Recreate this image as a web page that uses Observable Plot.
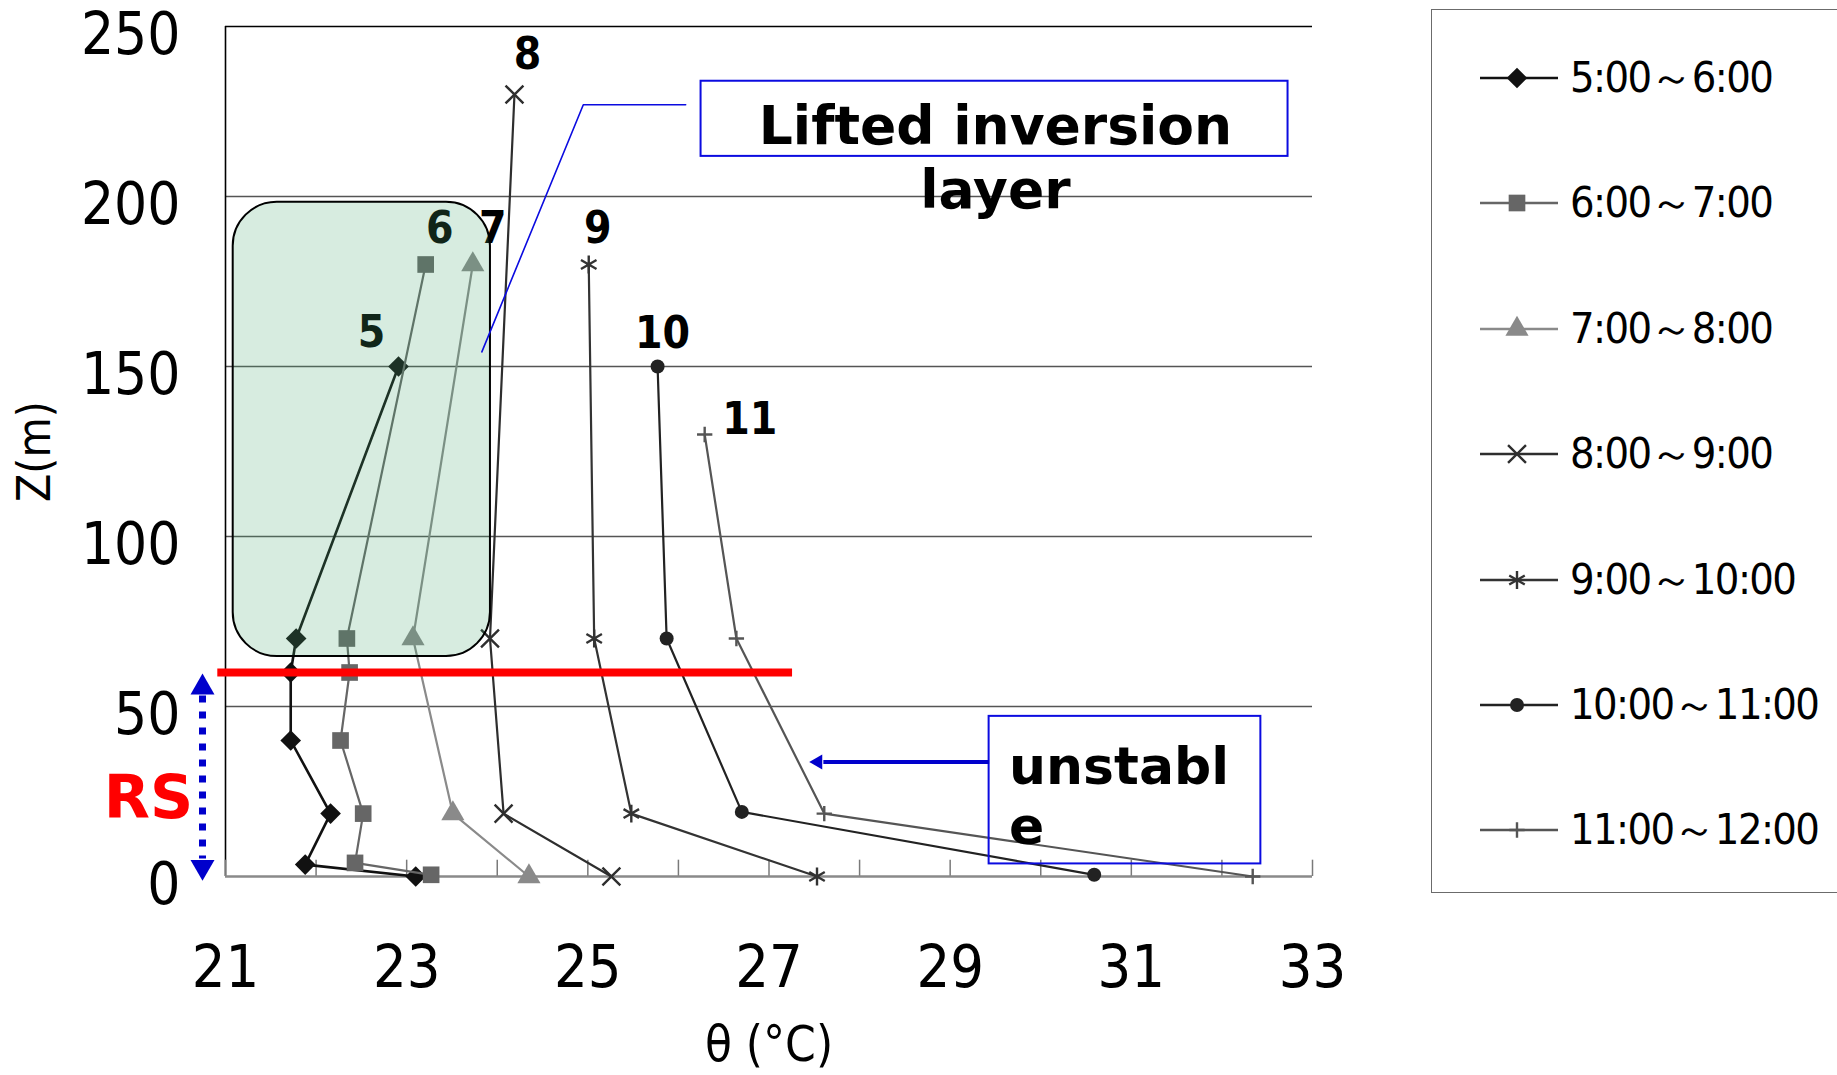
<!DOCTYPE html>
<html>
<head>
<meta charset="utf-8">
<script src="https://cdn.jsdelivr.net/npm/d3@7"></script>
<script src="https://cdn.jsdelivr.net/npm/@observablehq/plot@0.6"></script>
<style>
  html, body { margin: 0; padding: 0; background: #fff; }
  #wrap { position: relative; width: 1837px; height: 1075px; overflow: hidden; }
  #legend { position: absolute; left: 1431px; top: 9px; width: 460px; height: 884px;
            border: 1.5px solid #6b6b6b; box-sizing: border-box; background: #fff; }
  .row { position: absolute; left: 48px; height: 40px; display: flex; align-items: center; }
  .row span { font-family: "DejaVu Sans Condensed", "DejaVu Sans", sans-serif; font-stretch: condensed;
              font-size: 43px; margin-left: 12px; color: #000; white-space: nowrap; letter-spacing: -1.6px; }
</style>
</head>
<body>
<div id="wrap"></div>
<script>
// Potential temperature profiles, one per hour of the morning
const periods = ["5:00～6:00", "6:00～7:00", "7:00～8:00", "8:00～9:00", "9:00～10:00", "10:00～11:00", "11:00～12:00"];
const hourLabels = ["5", "6", "7", "8", "9", "10", "11"];

// heights (m) and θ (°C) of each profile
const z5 = [0, 3.5, 18.5, 40, 60, 70, 150];
const t5 = [23.10, 21.88, 22.16, 21.72, 21.72, 21.78, 22.91];
const z6 = [0.5, 4, 18.5, 40, 60, 70, 180];
const t6 = [23.27, 22.43, 22.52, 22.27, 22.37, 22.34, 23.21];
const z7 = [0, 18.5, 70, 180];
const t7 = [24.35, 23.51, 23.07, 23.73];
const z8 = [0, 18.5, 70, 230];
const t8 = [25.26, 24.07, 23.92, 24.19];
const z9 = [0, 18.5, 70, 180];
const t9 = [27.53, 25.48, 25.07, 25.01];
const z10 = [0.5, 19, 70, 150];
const t10 = [30.59, 26.70, 25.87, 25.77];
const z11 = [0, 18.5, 70, 130];
const t11 = [32.34, 27.61, 26.64, 26.29];

const xTicks = [21, 23, 25, 27, 29, 31, 33];
const yTicks = [0, 50, 100, 150, 200, 250];
const rsTop = 60; // top of the roughness sublayer (m)

const heights = [z5, z6, z7, z8, z9, z10, z11];
const thetas = [t5, t6, t7, t8, t9, t10, t11];

// drawing style of each profile
const looks = [
  {color: "#111111", symbol: "diamond2", r: 9.3, filled: true, width: 2.6, ldx: -27, ldy: -34},
  {color: "#666666", symbol: "square", r: 9.4, filled: true, width: 2.2, ldx: 14, ldy: -36},
  {color: "#8a8a8a", symbol: "triangle", r: 8.6, filled: true, width: 2.2, ldx: 20, ldy: -36},
  {color: "#2e2e2e", symbol: "times", r: 8.2, filled: false, width: 2.2, ldx: 13, ldy: -40},
  {color: "#333333", symbol: "asterisk", r: 8.5, filled: false, width: 2.2, ldx: 9, ldy: -36},
  {color: "#222222", symbol: "circle", r: 7, filled: true, width: 2.2, ldx: 5, ldy: -33},
  {color: "#555555", symbol: "plus", r: 5, filled: false, width: 2.2, ldx: 45, ldy: -15}
];

const profiles = periods.map((p, i) => ({
  period: p,
  label: hourLabels[i],
  rows: heights[i].map((z, j) => ({z, theta: thetas[i][j]})),
  look: looks[i]
}));

const font = "\"DejaVu Sans Condensed\", \"DejaVu Sans\", sans-serif";
const blue = "#0b0be0";

const profileMarks = profiles.flatMap(({rows, look, label}) => {
  const top = rows.reduce((a, b) => (b.z > a.z ? b : a));
  return [
    Plot.line(rows, {x: "theta", y: "z", stroke: look.color, strokeWidth: look.width}),
    Plot.dot(rows, {
      x: "theta", y: "z", symbol: look.symbol, r: look.r,
      fill: look.filled ? look.color : "none",
      stroke: look.filled ? "none" : look.color,
      strokeWidth: look.filled ? 0 : 2.4
    }),
    Plot.text([top], {
      x: "theta", y: "z", text: () => label, dx: look.ldx, dy: look.ldy,
      fontSize: 44, fontWeight: "bold", fontFamily: font, fill: "#000",
      textAnchor: "middle", lineAnchor: "middle"
    })
  ];
});

const chart = Plot.plot({
  width: 1837,
  height: 1075,
  marginLeft: 225,
  marginRight: 525,
  marginTop: 26,
  marginBottom: 199,
  x: {domain: [21, 33]},
  y: {domain: [0, 250]},
  style: {background: "transparent", overflow: "visible", fontFamily: font, color: "#000"},
  marks: [
    // frame and grid
    Plot.ruleY([50, 100, 150, 200], {stroke: "#555", strokeWidth: 1.3}),
    Plot.ruleY([250], {stroke: "#000", strokeWidth: 1.3}),
    Plot.ruleX([21], {y1: 0, y2: 250, stroke: "#000", strokeWidth: 1.6}),
    Plot.ruleX(d3.range(21, 34), {y1: 0, y2: 4.8, stroke: "#7a7a7a", strokeWidth: 1.5}),
    Plot.ruleY([0], {stroke: "#8a8a8a", strokeWidth: 2.5}),
    Plot.axisX({ticks: xTicks, tickSize: 0, tickPadding: 69, fontSize: 59, label: null, fontFamily: font}),
    Plot.axisY({ticks: yTicks, tickSize: 0, tickPadding: 45, fontSize: 58, dy: 9, label: null, fontFamily: font}),
    Plot.text(["Z(m)"], {frameAnchor: "left", dx: -190, rotate: -90, text: d => d, fontSize: 46,
      textAnchor: "middle", lineAnchor: "middle", fontFamily: font}),
    Plot.text(["θ (°C)"], {frameAnchor: "bottom", dy: 169, text: d => d, fontSize: 49,
      textAnchor: "middle", lineAnchor: "middle", fontFamily: font}),

    // profiles
    ...profileMarks,

    // lifted inversion region (translucent overlay)
    Plot.rect([0], {x1: 21.085, x2: 23.925, y1: 64.7, y2: 198.3, rx: 44,
      fill: "#47aa74", fillOpacity: 0.22, stroke: "#000", strokeWidth: 2}),

    // top of the roughness sublayer
    Plot.ruleY([rsTop], {x1: 20.915, x2: 27.26, stroke: "#ff0000", strokeWidth: 8}),

    // RS extent arrow
    Plot.link([0], {x1: 21, x2: 21, y1: 53.2, y2: 5.3, dx: -23, stroke: "#0000cc",
      strokeWidth: 7, strokeDasharray: "7 9"}),
    Plot.dot([{z: 55.6, rot: 0}, {z: 2.8, rot: 180}], {x: 21, y: "z", dx: -23, rotate: "rot",
      symbol: "triangle", r: 8.9, fill: "#0000cc"}),
    Plot.text([23], {y: d => d, frameAnchor: "left", dx: -77, text: () => "RS", fontSize: 60,
      fontWeight: "bold", fill: "#ff0000", textAnchor: "middle", lineAnchor: "middle", fontFamily: "DejaVu Sans"}),

    // "Lifted inversion layer" callout
    Plot.line([{x: 26.08, z: 227}, {x: 24.95, z: 227}, {x: 23.83, z: 154.3}],
      {x: "x", y: "z", stroke: blue, strokeWidth: 1.6}),
    Plot.rect([0], {x1: 26.25, x2: 32.73, y1: 211.8, y2: 233.9, fill: "none", stroke: blue, strokeWidth: 2}),
    Plot.text(["Lifted inversion\nlayer"], {x: 29.5, y: 212.0, text: d => d, fontSize: 53.5,
      fontWeight: "bold", lineHeight: 1.2, textAnchor: "middle", lineAnchor: "middle",
      fontFamily: "DejaVu Sans", fill: "#000"}),

    // "unstable" callout
    Plot.rect([0], {x1: 29.43, x2: 32.43, y1: 3.7, y2: 47.1, fill: "none", stroke: blue, strokeWidth: 2}),
    Plot.text(["unstabl\ne"], {x: 29.65, y: 24.1, text: d => d, fontSize: 52,
      fontWeight: "bold", lineHeight: 1.17, textAnchor: "start", lineAnchor: "middle",
      fontFamily: "DejaVu Sans", fill: "#000"}),
    Plot.link([0], {x1: 29.43, x2: 27.6, y1: 33.7, y2: 33.7, stroke: "#0000cc", strokeWidth: 4}),
    Plot.dot([0], {x: 27.54, y: 33.7, rotate: -90, symbol: "triangle", r: 5.6, fill: "#0000cc"})
  ]
});

const wrap = document.getElementById("wrap");
wrap.appendChild(chart);

// legend box
const legend = document.createElement("div");
legend.id = "legend";
wrap.appendChild(legend);

const symbolTypes = {
  diamond2: d3.symbolDiamond2, square: d3.symbolSquare, triangle: d3.symbolTriangle,
  times: d3.symbolTimes, asterisk: d3.symbolAsterisk, circle: d3.symbolCircle, plus: d3.symbolPlus
};

profiles.forEach(({period, look}, i) => {
  const row = document.createElement("div");
  row.className = "row";
  row.style.top = (68 + i * 125.4 - 20) + "px";
  const svg = d3.create("svg").attr("width", 78).attr("height", 40);
  svg.append("line").attr("x1", 0).attr("x2", 78).attr("y1", 20).attr("y2", 20)
    .attr("stroke", look.color).attr("stroke-width", 2.4);
  svg.append("path")
    .attr("transform", "translate(37,20)")
    .attr("d", d3.symbol(symbolTypes[look.symbol], Math.PI * look.r * look.r)())
    .attr("fill", look.filled ? look.color : "none")
    .attr("stroke", look.filled ? "none" : look.color)
    .attr("stroke-width", look.filled ? 0 : 2.4);
  row.appendChild(svg.node());
  const span = document.createElement("span");
  span.textContent = period;
  row.appendChild(span);
  legend.appendChild(row);
});
</script>
</body>
</html>
